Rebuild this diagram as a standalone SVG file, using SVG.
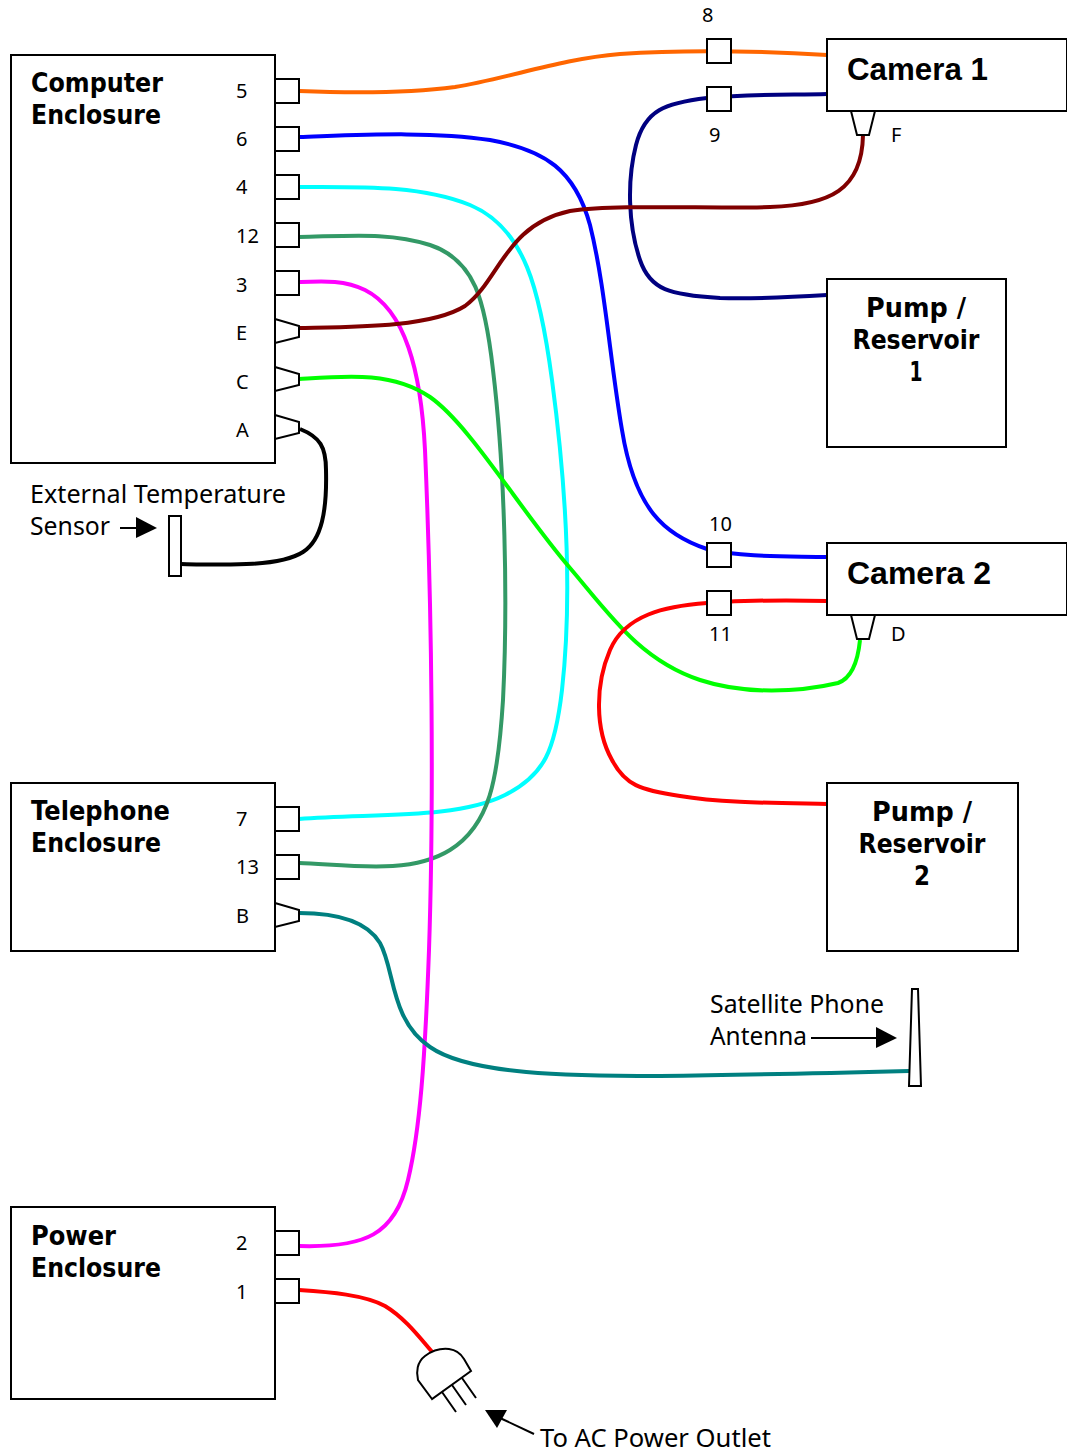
<svg xmlns="http://www.w3.org/2000/svg" width="1067" height="1453" viewBox="0 0 1067 1453">
<style>
text{font-family:"Noto Sans","DejaVu Sans",sans-serif;fill:#000}
.b{fill:#fff;stroke:#000;stroke-width:2}
.p{fill:#fff;stroke:#000;stroke-width:2}
.t{font-size:27px;font-weight:700;font-family:"DejaVu Sans",sans-serif}
.c{font-size:32px;font-weight:700;font-family:"Liberation Sans",sans-serif}
.n{font-size:20px}
.l{font-size:26px}
.w{fill:none;stroke-width:4}
.a{fill:none;stroke:#000;stroke-width:2}
</style>
<rect width="1067" height="1453" fill="#fff"/>
<g id="connectors">
<path class="w" stroke="#ff6600" d="M299 91C350 93 410 93 455 87C510 78 560 59 620 54C690 49 760 51 827 55"/>
<path class="w" stroke="#000080" d="M827 94C790 95 750 94 707 98C665 103 645 110 636 145C627 180 628 225 640 260C650 290 670 295 720 298C760 299 795 297 827 295"/>
<path class="w" stroke="#0000ff" d="M299 137C360 135 430 131 490 140C545 150 575 170 590 225C605 285 610 360 622 430C635 510 665 535 707 549C745 558 790 556 827 557"/>
<path class="w" stroke="#00ffff" d="M299 187C360 187 420 185 470 205C525 228 540 290 552 380C568 500 572 600 562 690C555 750 545 775 505 795C455 820 370 813 299 819"/>
<path class="w" stroke="#339966" d="M299 237C350 236 390 232 430 245C475 260 485 300 493 370C505 470 508 600 503 700C498 780 490 825 450 850C410 875 350 865 299 863"/>
<path class="w" stroke="#ff00ff" d="M299 282C325 281 345 280 365 290C405 310 421 370 425 450C432 610 434 800 429 950C425 1060 420 1130 408 1180C395 1235 365 1248 299 1246"/>
<path class="w" stroke="#800000" d="M299 328C350 327 430 328 465 306C500 280 505 225 570 211C620 204 710 209 770 207C830 205 862 190 863 135"/>
<path class="w" stroke="#00ff00" d="M299 379C345 376 392 371 430 397C470 425 520 510 570 568C610 615 640 660 700 680C745 695 800 692 838 683C852 678 858 660 860 640"/>
<path class="w" stroke="#000" d="M300 429C320 437 326 447 326 470C327 510 322 540 303 552C280 567 225 565 181 564"/>
<path class="w" stroke="#ff0000" d="M827 601C790 600 750 600 707 603C665 606 625 615 610 650C595 685 595 730 612 760C625 785 640 790 680 796C720 803 780 803 827 804"/>
<path class="w" stroke="#008080" d="M299 913C330 913 365 918 380 943C395 970 390 1020 430 1047C470 1075 570 1076 660 1076C750 1075 830 1073 909 1071"/>
<path class="w" stroke="#ff0000" d="M299 1290C330 1292 365 1295 385 1306C405 1318 420 1338 433 1353"/>
</g>
<g id="computer-enclosure">
<rect class="b" x="11" y="55" width="264" height="408"/>
<text class="t" x="31" y="92" textLength="132" lengthAdjust="spacingAndGlyphs">Computer</text>
<text class="t" x="31" y="124" textLength="130" lengthAdjust="spacingAndGlyphs">Enclosure</text>
</g>
<g id="telephone-enclosure">
<rect class="b" x="11" y="783" width="264" height="168"/>
<text class="t" x="31" y="820" textLength="139" lengthAdjust="spacingAndGlyphs">Telephone</text>
<text class="t" x="31" y="852" textLength="130" lengthAdjust="spacingAndGlyphs">Enclosure</text>
</g>
<g id="power-enclosure">
<rect class="b" x="11" y="1207" width="264" height="192"/>
<text class="t" x="31" y="1245" textLength="85" lengthAdjust="spacingAndGlyphs">Power</text>
<text class="t" x="31" y="1277" textLength="130" lengthAdjust="spacingAndGlyphs">Enclosure</text>
</g>
<g id="camera-1">
<rect class="b" x="827" y="39" width="240" height="72"/>
<text class="c" x="847" y="80" textLength="141" lengthAdjust="spacingAndGlyphs">Camera 1</text>
<path class="p" d="M851 111H875L869 135H857Z"/>
<text class="n" x="891" y="142">F</text>
</g>
<g id="camera-2">
<rect class="b" x="827" y="543" width="240" height="72"/>
<text class="c" x="847" y="584">Camera 2</text>
<path class="p" d="M851 615H875L869 639H857Z"/>
<text class="n" x="891" y="641">D</text>
</g>
<g id="pump-1">
<rect class="b" x="827" y="279" width="179" height="168"/>
<text class="t" x="916" y="317" text-anchor="middle" textLength="100" lengthAdjust="spacingAndGlyphs">Pump /</text>
<text class="t" x="916" y="349" text-anchor="middle" textLength="127" lengthAdjust="spacingAndGlyphs">Reservoir</text>
<text class="t" x="916" y="381" text-anchor="middle" textLength="13" lengthAdjust="spacingAndGlyphs">1</text>
</g>
<g id="pump-2">
<rect class="b" x="827" y="783" width="191" height="168"/>
<text class="t" x="922" y="821" text-anchor="middle" textLength="100" lengthAdjust="spacingAndGlyphs">Pump /</text>
<text class="t" x="922" y="853" text-anchor="middle" textLength="127" lengthAdjust="spacingAndGlyphs">Reservoir</text>
<text class="t" x="922" y="885" text-anchor="middle" textLength="16" lengthAdjust="spacingAndGlyphs">2</text>
</g>
<g id="ports">
<rect class="p" x="275" y="79" width="24" height="24"/><text class="n" x="236" y="98">5</text>
<rect class="p" x="275" y="127" width="24" height="24"/><text class="n" x="236" y="146">6</text>
<rect class="p" x="275" y="175" width="24" height="24"/><text class="n" x="236" y="194">4</text>
<rect class="p" x="275" y="223" width="24" height="24"/><text class="n" x="236" y="243">12</text>
<rect class="p" x="275" y="271" width="24" height="24"/><text class="n" x="236" y="292">3</text>
<path class="p" d="M275 319L299 326V337L275 343Z"/><text class="n" x="236" y="340">E</text>
<path class="p" d="M275 367L299 374V385L275 391Z"/><text class="n" x="236" y="389">C</text>
<path class="p" d="M275 415L299 422V433L275 439Z"/><text class="n" x="236" y="437">A</text>
<rect class="p" x="275" y="807" width="24" height="24"/><text class="n" x="236" y="826">7</text>
<rect class="p" x="275" y="855" width="24" height="24"/><text class="n" x="236" y="874">13</text>
<path class="p" d="M275 903L299 910V921L275 927Z"/><text class="n" x="236" y="923">B</text>
<rect class="p" x="275" y="1231" width="24" height="24"/><text class="n" x="236" y="1250">2</text>
<rect class="p" x="275" y="1279" width="24" height="24"/><text class="n" x="236" y="1299">1</text>
<rect class="p" x="707" y="39" width="24" height="24"/><text class="n" x="702" y="22">8</text>
<rect class="p" x="707" y="87" width="24" height="24"/><text class="n" x="709" y="142">9</text>
<rect class="p" x="707" y="543" width="24" height="24"/><text class="n" x="709" y="531">10</text>
<rect class="p" x="707" y="591" width="24" height="24"/><text class="n" x="709" y="641">11</text>
</g>
<g id="temperature-sensor">
<rect class="p" x="169" y="516" width="12" height="60"/>
<text class="l" x="30" y="503" textLength="256" lengthAdjust="spacingAndGlyphs">External Temperature</text>
<text class="l" x="30" y="535" textLength="80" lengthAdjust="spacingAndGlyphs">Sensor</text>
<path class="a" d="M120 528H140"/><path d="M136 517L157 528L136 538Z"/>
</g>
<g id="satellite-antenna">
<path class="p" d="M912 989H918L921 1086H909Z"/>
<text class="l" x="710" y="1013" textLength="174" lengthAdjust="spacingAndGlyphs">Satellite Phone</text>
<text class="l" x="710" y="1045" textLength="97" lengthAdjust="spacingAndGlyphs">Antenna</text>
<path class="a" d="M811 1038H880"/><path d="M876 1027L897 1038L876 1048Z"/>
</g>
<g id="plug">
<path class="p" d="M432 1399L418 1380C416 1372 417 1362 425 1356C433 1350 440 1348 449 1349C457 1350 461 1354 464 1359L471 1371Z"/>
<path class="a" d="M442 1392L456 1412M452 1385L466 1405M462 1378L476 1398"/>
<text class="l" x="540" y="1447" textLength="231" lengthAdjust="spacingAndGlyphs">To AC Power Outlet</text>
<path class="a" d="M534 1434L500 1418"/><path d="M485 1410L507 1410L497 1428Z"/>
</g>
</svg>
